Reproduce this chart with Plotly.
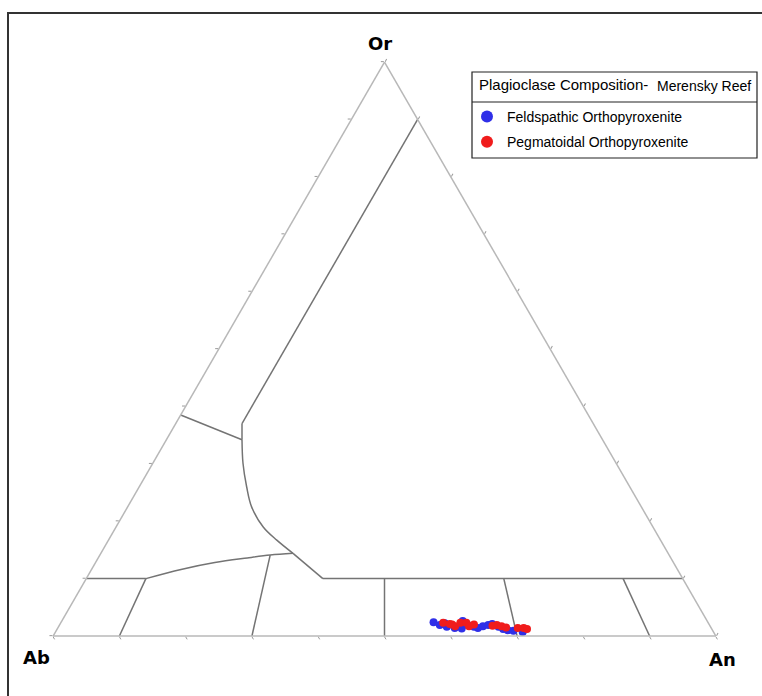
import plotly.graph_objects as go

W, H = 762, 696

# ---- data: plagioclase analyses (Or %, An %) ----
feld_or = [2.4, 1.9, 1.6, 1.4, 2.6, 1.9, 1.6, 1.4, 1.7, 1.9, 2.1, 1.6, 1.2, 1.0, 0.9, 0.7, 2.2, 1.3]
feld_an = [56.2, 57.4, 58.6, 59.9, 60.5, 61.6, 62.7, 63.4, 64.0, 64.7, 65.2, 66.4, 67.3, 68.1, 69.0, 70.5, 58.0, 61.0]
peg_or = [2.3, 2.1, 1.7, 2.3, 2.3, 1.7, 2.0, 1.9, 1.7, 1.5, 1.4, 1.4, 1.2, 2.0, 1.8]
peg_an = [57.7, 58.8, 59.8, 60.3, 61.2, 61.9, 62.5, 66.0, 66.8, 67.6, 69.4, 70.3, 70.9, 59.2, 65.4]

# ---- feldspar classification field boundaries (Or %, An %) ----
or10_left = [(10, 0), (10, 9)]
curve_low = [(10, 9), (11.6, 13.5), (12.8, 18.0), (13.6, 22.5), (14.1, 25.7), (14.4, 29.0)]
drop_line = [(14.4, 29.0), (10, 35.7)]
or10_right = [(10, 35.7), (10, 90)]
curve_up = [(14.4, 29.0), (16.7, 25.4), (19.0, 22.2), (22.5, 18.7), (26.0, 16.2), (30.1, 13.6), (34.2, 11.4)]
kink = [(34.2, 11.4), (37, 10)]
an10_line = [(37, 10), (90, 10)]
left_branch = [(38.5, 0), (34.2, 11.4)]
ratio_lines = [
    [(0, 10), (10, 9)],
    [(0, 30), (14.1, 25.7)],
    [(0, 50), (10, 45)],
    [(0, 70), (10, 63)],
    [(0, 90), (10, 81)],
]

fig = go.Figure()

BND = "#747474"


def add_boundary(pts, spline=False):
    o = [p[0] for p in pts]
    a = [p[1] for p in pts]
    b = [100 - p[0] - p[1] for p in pts]
    fig.add_trace(go.Scatterternary(
        a=o, b=b, c=a, mode="lines",
        line=dict(color=BND, width=1.5, shape="spline" if spline else "linear"),
        showlegend=False, hoverinfo="skip"))


for seg in [or10_left, drop_line, or10_right, kink, an10_line, left_branch] + ratio_lines:
    add_boundary(seg)
add_boundary(curve_low, spline=True)
add_boundary(curve_up, spline=True)

fig.add_trace(go.Scatterternary(
    a=feld_or, b=[100 - o - n for o, n in zip(feld_or, feld_an)], c=feld_an,
    mode="markers", name="Feldspathic Orthopyroxenite", legendgroup="f",
    marker=dict(color="#2f2fe8", size=8, line=dict(width=0))))
fig.add_trace(go.Scatterternary(
    a=peg_or, b=[100 - o - n for o, n in zip(peg_or, peg_an)], c=peg_an,
    mode="markers", name="Pegmatoidal Orthopyroxenite", legendgroup="p",
    marker=dict(color="#f01c1c", size=8, line=dict(width=0))))


def px(x):
    return x / W


def py(y):
    return 1 - y / H


axis_common = dict(
    min=0, showgrid=False, showticklabels=False, ticks="outside", ticklen=3,
    tickcolor="#9a9a9a", dtick=10, tick0=0, linecolor="#b8b8b8", linewidth=1.5,
    title=dict(text=""))

fig.update_layout(
    width=W, height=H,
    margin=dict(l=0, r=0, t=0, b=0),
    paper_bgcolor="white",
    font=dict(family="Liberation Sans", color="black"),
    ternary=dict(
        sum=100,
        domain=dict(x=[px(53), px(716)], y=[py(636), py(62)]),
        bgcolor="white",
        aaxis=axis_common, baxis=axis_common, caxis=axis_common,
    ),
    showlegend=True,
    legend=dict(
        x=px(467), y=py(101), xanchor="left", yanchor="top",
        bgcolor="rgba(0,0,0,0)", borderwidth=0,
        font=dict(size=14, family="Liberation Sans"),
        itemsizing="constant", tracegroupgap=4,
    ),
    shapes=[
        dict(type="rect", xref="paper", yref="paper", x0=px(8), x1=px(790), y0=py(720), y1=py(13),
             line=dict(color="#333333", width=2)),
        dict(type="rect", xref="paper", yref="paper", x0=px(472), x1=px(757), y0=py(158), y1=py(72),
             line=dict(color="#222222", width=1.2)),
        dict(type="line", xref="paper", yref="paper", x0=px(472), x1=px(757), y0=py(102), y1=py(102),
             line=dict(color="#222222", width=1.2)),
    ],
    annotations=[
        dict(text="Plagioclase Composition-", x=px(477), y=py(85), xref="paper", yref="paper",
             showarrow=False, font=dict(size=15, family="Liberation Sans"),
             xanchor="left", yanchor="middle"),
        dict(text="Merensky Reef", x=px(655), y=py(86), xref="paper", yref="paper",
             showarrow=False, font=dict(size=14, family="Liberation Sans"),
             xanchor="left", yanchor="middle"),
        dict(text="<b>Or</b>", x=px(380), y=py(43), xref="paper", yref="paper", showarrow=False,
             font=dict(size=18, family="DejaVu Sans"), xanchor="center", yanchor="middle"),
        dict(text="<b>Ab</b>", x=px(36), y=py(657), xref="paper", yref="paper", showarrow=False,
             font=dict(size=18, family="DejaVu Sans"), xanchor="center", yanchor="middle"),
        dict(text="<b>An</b>", x=px(722), y=py(659), xref="paper", yref="paper", showarrow=False,
             font=dict(size=18, family="DejaVu Sans"), xanchor="center", yanchor="middle"),
    ],
)

fig.write_html("out.html", config={"displayModeBar": False},
               post_script="document.body.style.margin='0px';document.body.style.overflow='hidden';")
